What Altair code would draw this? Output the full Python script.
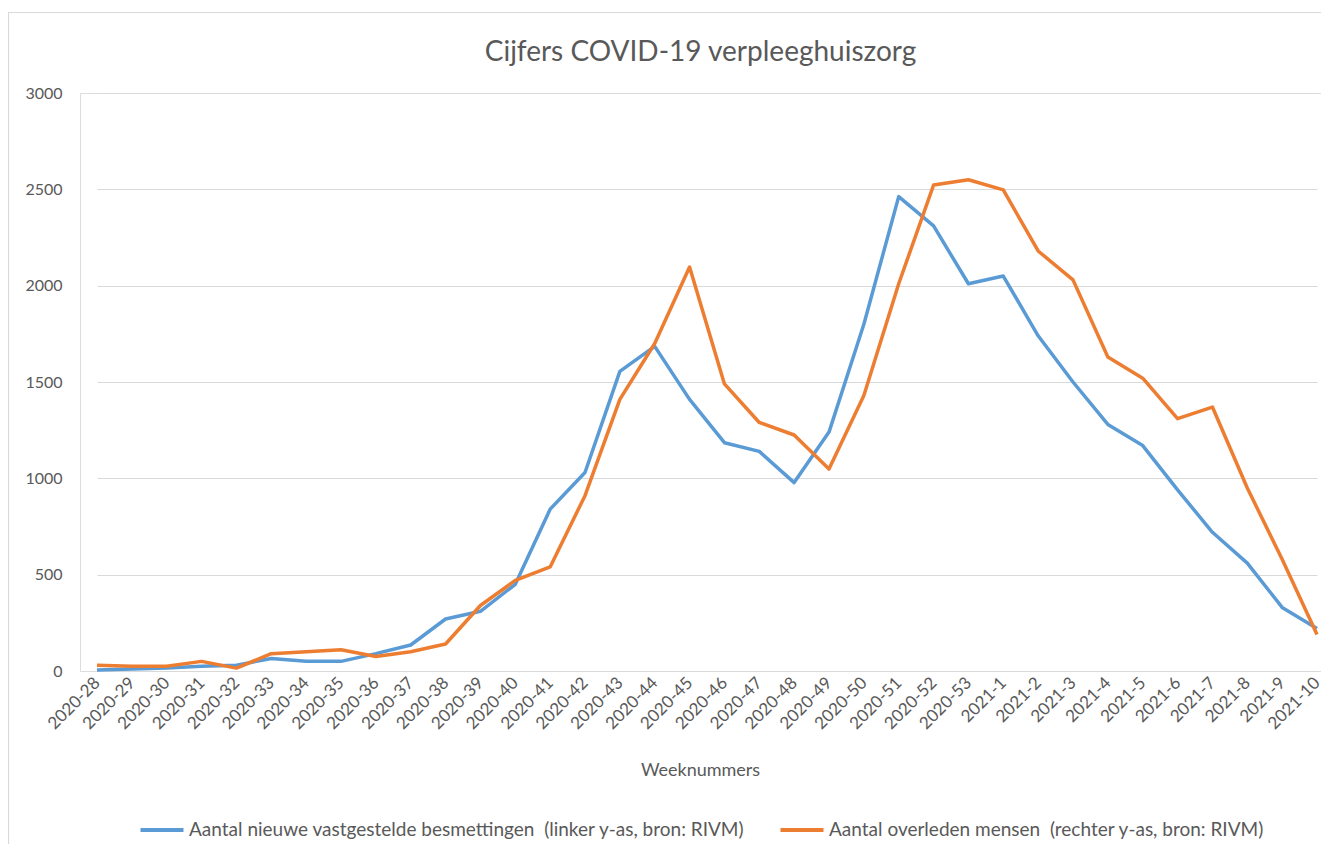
import altair as alt
import pandas as pd

weeks = [
    "2020-28", "2020-29", "2020-30", "2020-31", "2020-32", "2020-33", "2020-34",
    "2020-35", "2020-36", "2020-37", "2020-38", "2020-39", "2020-40", "2020-41",
    "2020-42", "2020-43", "2020-44", "2020-45", "2020-46", "2020-47", "2020-48",
    "2020-49", "2020-50", "2020-51", "2020-52", "2020-53", "2021-1", "2021-2",
    "2021-3", "2021-4", "2021-5", "2021-6", "2021-7", "2021-8", "2021-9", "2021-10",
]
besmettingen = [
    5, 10, 15, 25, 30, 65, 50, 50, 90, 135, 270, 310, 450, 840, 1030, 1555,
    1685, 1410, 1185, 1140, 978, 1240, 1800, 2462, 2310, 2010, 2050, 1740,
    1500, 1280, 1170, 940, 720, 560, 330, 220,
]
overleden = [
    30, 25, 25, 50, 15, 90, 100, 110, 75, 100, 140, 340, 470, 540, 910, 1410,
    1700, 2097, 1490, 1290, 1225, 1048, 1430, 2010, 2522, 2550, 2497, 2180,
    2030, 1630, 1520, 1310, 1370, 950, 580, 190,
]
series_names = [
    "Aantal nieuwe vastgestelde besmettingen \u00a0(linker y-as, bron: RIVM)",
    "Aantal overleden mensen \u00a0(rechter y-as, bron: RIVM)",
]
colors = ["#5B9BD5", "#ED7D31"]
y_ticks = [0, 500, 1000, 1500, 2000, 2500, 3000]

df = pd.DataFrame({
    "week": weeks + weeks,
    "value": besmettingen + overleden,
    "series": [series_names[0]] * len(weeks) + [series_names[1]] * len(weeks),
})

FONT = "Lato"
TXT = "#595959"

lines = alt.Chart(df).mark_line(strokeWidth=3.5, strokeJoin="round").encode(
    x=alt.X(
        "week:N",
        sort=weeks,
        scale=alt.Scale(type="point", range=[17, 1237], padding=0),
        axis=alt.Axis(
            title="Weeknummers",
            titleFont=FONT,
            titleFontSize=18,
            titleFontWeight="normal",
            titleColor=TXT,
            titlePadding=30,
            titleX=620,
            labelAngle=-45,
            labelAlign="right",
            labelBaseline="middle",
            labelFont=FONT,
            labelFontSize=17,
            labelColor=TXT,
            labelPadding=9,
            labelOverlap=False,
            domain=False,
            ticks=False,
            grid=False,
        ),
    ),
    y=alt.Y(
        "value:Q",
        scale=alt.Scale(domain=[0, 3000], nice=False),
        axis=alt.Axis(
            title=None,
            values=y_ticks,
            format="d",
            domain=False,
            ticks=False,
            grid=True,
            gridColor="#d9d9d9",
            gridWidth=1.2,
            labelFont=FONT,
            labelFontSize=16,
            labelColor=TXT,
            labelPadding=18,
        ),
    ),
    color=alt.Color(
        "series:N",
        sort=series_names,
        scale=alt.Scale(domain=series_names, range=colors),
        legend=alt.Legend(
            title=None,
            orient="none",
            legendX=58,
            legendY=713,
            direction="horizontal",
            symbolType="stroke",
            symbolSize=1850,
            symbolStrokeWidth=4,
            labelFont=FONT,
            labelFontSize=19,
            labelColor=TXT,
            labelLimit=900,
            labelOffset=3,
            columnPadding=27,
        ),
    ),
)

frame = alt.Chart(pd.DataFrame({"a": [0]})).mark_rect(
    fillOpacity=0, stroke="#d9d9d9", strokeWidth=1.2, clip=False
).encode(
    x=alt.value(-71.5), x2=alt.value(1400), y=alt.value(-80.5), y2=alt.value(900)
)

chart = alt.layer(frame, lines).properties(
    width=1241,
    height=578,
    title=alt.TitleParams(
        "Cijfers COVID-19 verpleeghuiszorg",
        font=FONT,
        fontSize=28,
        fontWeight="normal",
        color=TXT,
        anchor="middle",
        frame="group",
        offset=-55,
    ),
    autosize=alt.AutoSizeParams(type="none"),
    padding={"left": 72, "top": 85, "right": 0, "bottom": 173},
).configure_view(stroke=None).configure(background="white")

chart.save("out.html", embed_options={"renderer": "svg", "actions": False})
